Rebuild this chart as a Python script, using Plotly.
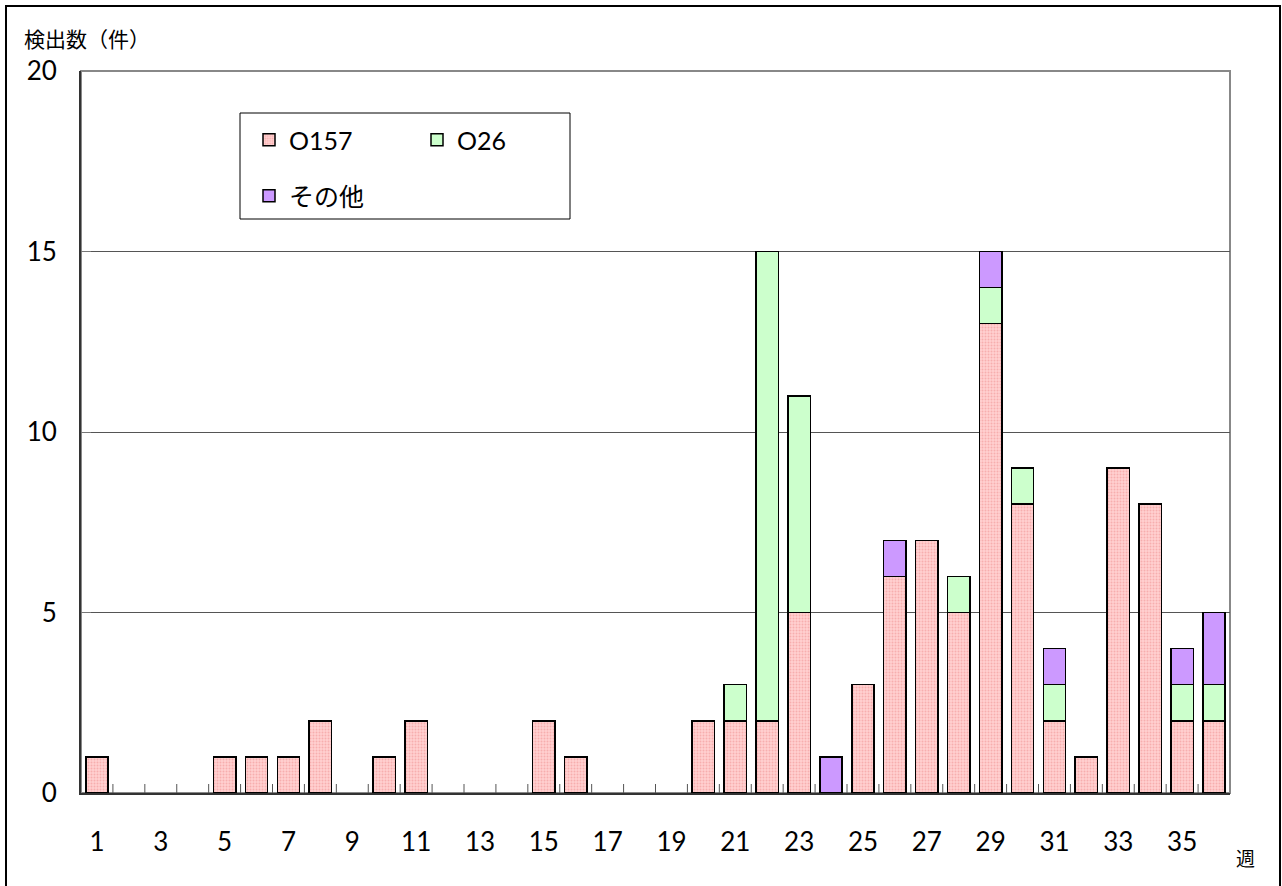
import plotly.graph_objects as go

weeks = list(range(1, 37))
o157 = [1, 0, 0, 0, 1, 1, 1, 2, 0, 1, 2, 0, 0, 0, 2, 1, 0, 0, 0, 2,
        2, 2, 5, 0, 3, 6, 7, 5, 13, 8, 2, 1, 9, 8, 2, 2]
o26 = [0, 0, 0, 0, 0, 0, 0, 0, 0, 0, 0, 0, 0, 0, 0, 0, 0, 0, 0, 0,
       1, 13, 6, 0, 0, 0, 0, 1, 1, 1, 1, 0, 0, 0, 1, 1]
other = [0, 0, 0, 0, 0, 0, 0, 0, 0, 0, 0, 0, 0, 0, 0, 0, 0, 0, 0, 0,
         0, 0, 0, 1, 0, 1, 0, 0, 1, 0, 1, 0, 0, 0, 1, 2]
ytick_vals = [0, 5, 10, 15, 20]

FONT = "Lato, 'Noto Sans CJK JP', sans-serif"
JP = "'Noto Sans CJK JP', sans-serif"

def nz(a):
    return [v if v else None for v in a]

fig = go.Figure()
fig.add_trace(go.Bar(
    x=weeks, y=nz(o157), name="O157", legend="legend",
    marker=dict(color="#FFC4C4", line=dict(color="black", width=1.5),
                pattern=dict(shape=".", bgcolor="#FFD0D0", fgcolor="#F08C8C",
                             size=3, solidity=0.35)),
))
fig.add_trace(go.Bar(
    x=weeks, y=nz(o26), name="O26", legend="legend",
    marker=dict(color="#CCFFCC", line=dict(color="black", width=1.5)),
))
fig.add_trace(go.Bar(
    x=weeks, y=nz(other), name="その他", legend="legend2",
    marker=dict(color="#CC99FF", line=dict(color="black", width=1.5)),
))

L, R, T, B = 81, 52, 71, 93
W, H = 1282, 886
pw, ph = W - L - R, H - T - B

def px(xp):
    return (xp - L) / pw

def py(yp):
    return (H - B - yp) / ph

fig.update_layout(
    width=W, height=H,
    margin=dict(l=L, r=R, t=T, b=B, pad=0),
    paper_bgcolor="white", plot_bgcolor="white",
    barmode="stack", bargap=0.3,
    font=dict(family=FONT, size=26, color="black"),
    legend=dict(orientation="h", x=px(249), xanchor="left", y=py(140), yanchor="middle",
                bgcolor="rgba(0,0,0,0)", borderwidth=0, entrywidth=123,
                traceorder="normal",
                font=dict(family=FONT, size=25, color="black")),
    legend2=dict(orientation="h", x=px(249), xanchor="left", y=py(196), yanchor="middle",
                 bgcolor="rgba(0,0,0,0)", borderwidth=0, traceorder="normal",
                 font=dict(family=JP, size=25, color="black")),
    xaxis=dict(range=[0.5, 36.5], tickmode="linear", tick0=1, dtick=2,
               ticks="", showgrid=False,
               showline=True, linecolor="#333", linewidth=2, zeroline=False,
               ticklabelstandoff=25),
    yaxis=dict(range=[0, 20], tickmode="array", tickvals=ytick_vals, ticks="inside",
               ticklen=10, tickcolor="#777", showgrid=True, gridcolor="#555", gridwidth=1,
               showline=True, linecolor="#333", linewidth=2, zeroline=False,
               ticklabelstandoff=17),
    showlegend=True,
)

# category-boundary tick marks on the x axis (between weeks)
for w in weeks[:-1]:
    fig.add_shape(type="line", xref="x", yref="paper", x0=w + 0.5, x1=w + 0.5,
                  y0=0, y1=9 / ph, line=dict(color="#555", width=1), layer="above")

fig.add_shape(type="rect", xref="paper", yref="paper", x0=0, x1=1, y0=0, y1=1,
              line=dict(color="#888", width=2), layer="below")
fig.add_shape(type="rect", xref="paper", yref="paper",
              x0=px(240), x1=px(570), y0=py(219), y1=py(113),
              line=dict(color="black", width=1), fillcolor="white", layer="below")
fig.add_shape(type="rect", xref="paper", yref="paper",
              x0=px(6), x1=px(1280), y0=py(900), y1=py(6),
              line=dict(color="black", width=2), layer="below")

fig.add_annotation(text="検出数（件）", xref="paper", yref="paper",
                   x=px(22), y=py(38), xanchor="left", yanchor="middle",
                   showarrow=False, font=dict(family=JP, size=21, color="black"))
fig.add_annotation(text="週", xref="paper", yref="paper",
                   x=px(1245), y=py(857), xanchor="center", yanchor="middle",
                   showarrow=False, font=dict(family=JP, size=19, color="black"))

fig.write_html("out.html", config={"displayModeBar": False},
               post_script="document.body.style.margin='0px';document.body.style.overflow='hidden';")
